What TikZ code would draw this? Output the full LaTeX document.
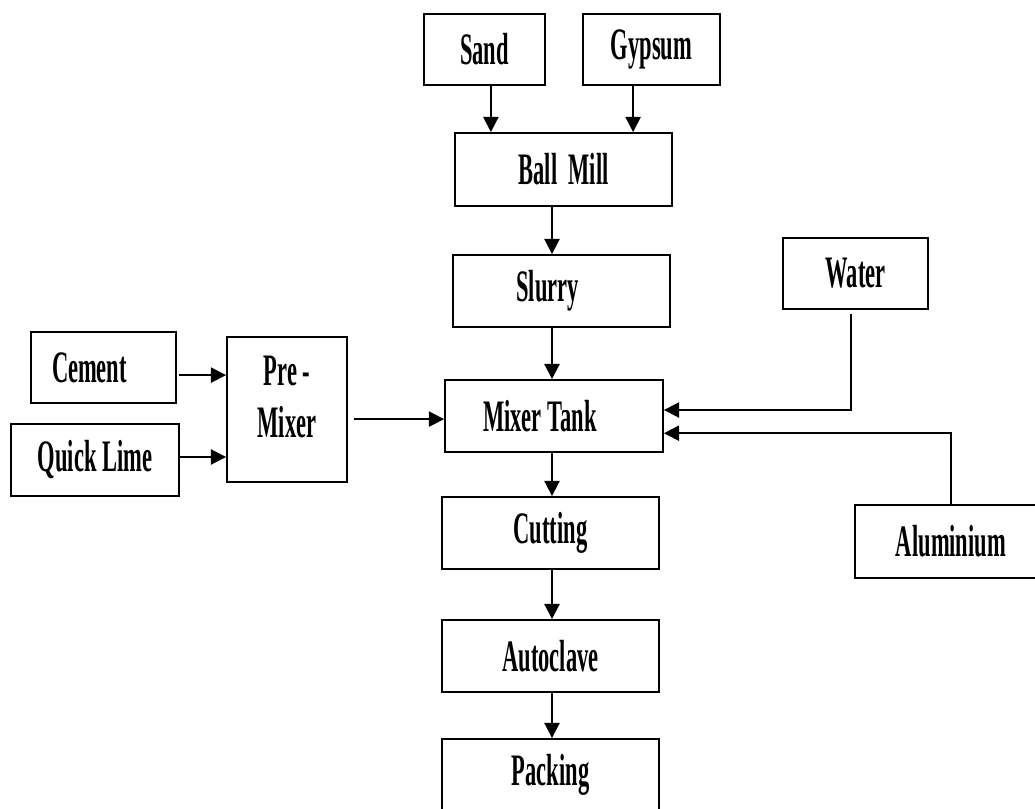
\documentclass[tikz,border=0pt]{standalone}
\usepackage{fontspec}
\setmainfont{Liberation Serif}
\usepackage{graphicx}
\usepackage{tikz}
\usetikzlibrary{arrows.meta}

% narrow bold lettering of the flow sheet
\newcommand{\nar}[1]{\scalebox{0.5}[1]{#1}}

\begin{document}
\begin{tikzpicture}[x=0.025cm, y=-0.025cm,
    blk/.style={draw=black, line width=1.3pt, inner sep=0pt,
        font=\fontsize{32}{37}\selectfont\bfseries, align=center},
    txt/.style={inner sep=0pt, font=\fontsize{32}{37}\selectfont\bfseries, align=center},
    flow/.style={line width=1.3pt, -{Triangle[length=0.38cm,width=0.38cm]}}]
    \useasboundingbox (0,0) rectangle (1035,809);

    % raw materials
    \node[blk, minimum width=3.025cm, minimum height=1.775cm] (sand) at (484.5,49.5) {\nar{Sand}};
    \node[blk, minimum width=3.425cm, minimum height=1.775cm] (gypsum) at (651.5,49.5) {\nar{Gypsum}};
    \node[blk, minimum width=3.625cm, minimum height=1.775cm] (cement) at (103.5,367.5) {\nar{Cement}\hspace*{0.7cm}};
    \node[blk, minimum width=4.2cm, minimum height=1.8cm] (quicklime) at (95,460) {\nar{Quick Lime}};
    \node[blk, minimum width=3.625cm, minimum height=1.775cm] (water) at (855.5,273.5) {\nar{Water}};
    \node[blk, minimum width=4.8cm, minimum height=1.825cm] (aluminium) at (951,541.5) {\nar{Aluminium}};

    % process line
    \node[blk, minimum width=5.425cm, minimum height=1.825cm] (ballmill) at (563.5,169.5) {\nar{Ball\ \ Mill}};
    \node[blk, minimum width=5.425cm, minimum height=1.8cm] (slurry) at (561.5,291) {\nar{Slurry}\hspace*{0.7cm}};
    \node[blk, minimum width=3.0cm, minimum height=3.625cm] (premixer) at (287,409.5) {};
    \node[txt] (premixerlabel) at (287,397) {\nar{Pre -}\\\nar{Mixer}};
    \node[blk, minimum width=5.45cm, minimum height=1.8cm] (mixer) at (554,416) {\nar{Mixer Tank}\hspace*{0.7cm}};
    \node[blk, minimum width=5.425cm, minimum height=1.8cm] (cutting) at (550.5,533) {\nar{Cutting}};
    \node[blk, minimum width=5.425cm, minimum height=1.8cm] (autoclave) at (550.5,656) {\nar{Autoclave}};
    \node[blk, minimum width=5.425cm, minimum height=1.8cm] (packing) at (550.5,775) {\nar{Packing}};

    \coordinate (axis) at (552,0);

    % arrows
    \draw[flow] ([xshift=0.16cm]sand.south) -- ([xshift=0.16cm]sand.south |- ballmill.north);
    \draw[flow] ([xshift=-0.46cm]gypsum.south) -- ([xshift=-0.46cm]gypsum.south |- ballmill.north);
    \draw[flow] (ballmill.south -| axis) -- (slurry.north -| axis);
    \draw[flow] (slurry.south -| axis) -- (mixer.north -| axis);
    \draw[flow] (mixer.south -| axis) -- (cutting.north -| axis);
    \draw[flow] (cutting.south -| axis) -- (autoclave.north -| axis);
    \draw[flow] (autoclave.south -| axis) -- (packing.north -| axis);
    \draw[flow] ([xshift=0.05cm,yshift=-0.19cm]cement.east) -- ([yshift=-0.19cm]cement.east -| premixer.west);
    \draw[flow] ([yshift=0.075cm]quicklime.east) -- ([yshift=0.075cm]quicklime.east -| premixer.west);
    \draw[flow] ([xshift=0.15cm,yshift=-0.24cm]premixer.east) -- ([yshift=-0.24cm]premixer.east -| mixer.west);
    \draw[flow] ([xshift=-0.11cm,yshift=-0.1cm]water.south) |- ([yshift=0.15cm]mixer.east);
    \draw[flow] (aluminium.north) |- ([yshift=-0.43cm]mixer.east);
\end{tikzpicture}
\end{document}
